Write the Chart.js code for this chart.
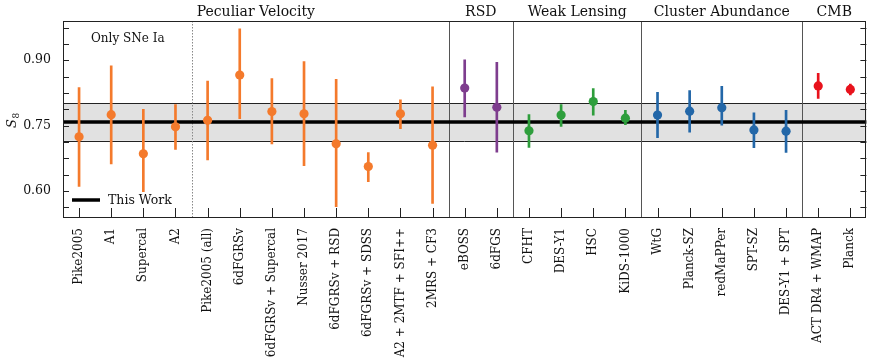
<!DOCTYPE html>
<html>
<head>
<meta charset="utf-8">
<script src="https://cdn.jsdelivr.net/npm/chart.js@4"></script>
<style>
  html, body { margin: 0; padding: 0; background: #fff; }
  #wrap { width: 871px; height: 362px; }
</style>
</head>
<body>
<div id="wrap"><canvas id="s8Chart" width="871" height="362"></canvas></div>
<script>
// Messungen
const labels = ['Pike2005', 'A1', 'Supercal', 'A2', 'Pike2005 (all)', '6dFGRSv', '6dFGRSv + Supercal',
    'Nusser 2017', '6dFGRSv + RSD', '6dFGRSv + SDSS', 'A2 + 2MTF + SFI++', '2MRS + CF3',
    'eBOSS', '6dFGS', 'CFHT', 'DES-Y1', 'HSC', 'KiDS-1000', 'WtG', 'Planck-SZ', 'redMaPPer',
    'SPT-SZ', 'DES-Y1 + SPT', 'ACT DR4 + WMAP', 'Planck'];
const s8Werte = [0.724, 0.775, 0.685, 0.747, 0.762, 0.866, 0.782, 0.777, 0.708, 0.656, 0.777, 0.705,
    0.836, 0.792, 0.738, 0.774, 0.805, 0.767, 0.774, 0.783, 0.791, 0.740, 0.737, 0.841, 0.833];
const s8Unten = [0.610, 0.662, 0.598, 0.695, 0.671, 0.766, 0.708, 0.658, 0.564, 0.621, 0.743, 0.571,
    0.770, 0.689, 0.700, 0.748, 0.774, 0.752, 0.722, 0.735, 0.751, 0.699, 0.688, 0.812, 0.820];
const s8Oben = [0.837, 0.887, 0.787, 0.798, 0.852, 0.972, 0.858, 0.897, 0.856, 0.688, 0.809, 0.839,
    0.901, 0.895, 0.775, 0.798, 0.835, 0.785, 0.826, 0.830, 0.840, 0.779, 0.785, 0.870, 0.845];
const gruppe = ['pv', 'pv', 'pv', 'pv', 'pv', 'pv', 'pv', 'pv', 'pv', 'pv', 'pv', 'pv',
    'rsd', 'rsd', 'wl', 'wl', 'wl', 'wl', 'cl', 'cl', 'cl', 'cl', 'cl', 'cmb', 'cmb'];

// Gruppen oben: Name, erster und letzter Index
const gruppenNamen = ['Peculiar Velocity', 'RSD', 'Weak Lensing', 'Cluster Abundance', 'CMB'];
const gruppenStart = [0, 12, 14, 18, 23];
const gruppenEnde = [11, 13, 17, 22, 24];

// Dieses Ergebnis (This Work)
const thisWork = 0.758;
const thisWorkUnten = 0.715;
const thisWorkOben = 0.801;

// y-Achse: beschriftete und kleine Ticks
const yTicksMajor = [0.60, 0.75, 0.90];
const yTicksAlle = [0.5625, 0.60, 0.6375, 0.675, 0.7125, 0.75, 0.7875, 0.825, 0.8625, 0.90, 0.9375, 0.975];

const farben = { pv: '#f47a2c', rsd: '#7e3d8e', wl: '#2e9e3c', cl: '#2367a8', cmb: '#e8121c' };
const punktFarben = gruppe.map(g => farben[g]);

const serif = '"DejaVu Serif", serif';

// Eigene Zeichnungen: Band, Trennlinien, Ticks, Texte
const deko = {
    id: 'deko',
    beforeDatasetsDraw(chart) {
        const { ctx, chartArea: a, scales: { x, y } } = chart;
        ctx.save();
        // graues Band
        const yO = y.getPixelForValue(thisWorkOben);
        const yU = y.getPixelForValue(thisWorkUnten);
        ctx.fillStyle = '#e1e1e1';
        ctx.fillRect(a.left, yO, a.right - a.left, yU - yO);
        ctx.strokeStyle = '#222';
        ctx.lineWidth = 1;
        ctx.beginPath();
        ctx.moveTo(a.left, Math.round(yO) + 0.5); ctx.lineTo(a.right, Math.round(yO) + 0.5);
        ctx.moveTo(a.left, Math.round(yU) + 0.5); ctx.lineTo(a.right, Math.round(yU) + 0.5);
        ctx.stroke();
        // Trennlinien
        const mitte = i => (x.getPixelForValue(i) + x.getPixelForValue(i + 1)) / 2;
        ctx.strokeStyle = '#555';
        gruppenEnde.slice(0, -1).forEach(e => {
            const px = Math.round(mitte(e)) + 0.5;
            ctx.beginPath(); ctx.moveTo(px, a.top); ctx.lineTo(px, a.bottom); ctx.stroke();
        });
        ctx.strokeStyle = '#888';
        ctx.setLineDash([1.5, 1.5]);
        const pd = Math.round(mitte(3)) + 0.5;
        ctx.beginPath(); ctx.moveTo(pd, a.top); ctx.lineTo(pd, a.bottom); ctx.stroke();
        ctx.setLineDash([]);
        // dicke Linie "This Work"
        const yT = y.getPixelForValue(thisWork);
        ctx.strokeStyle = '#000';
        ctx.lineWidth = 3.5;
        ctx.beginPath(); ctx.moveTo(a.left, yT); ctx.lineTo(a.right, yT); ctx.stroke();
        ctx.restore();
    },
    afterDatasetsDraw(chart) {
        const { ctx, chartArea: a, scales: { x, y } } = chart;
        ctx.save();
        ctx.strokeStyle = '#222';
        ctx.lineWidth = 1;
        // Rahmen
        ctx.strokeRect(Math.round(a.left) + 0.5, Math.round(a.top) + 0.5,
            Math.round(a.right - a.left) - 1, Math.round(a.bottom - a.top));
        // x-Ticks nach innen
        ctx.beginPath();
        labels.forEach((l, i) => {
            const px = Math.round(x.getPixelForValue(i)) + 0.5;
            ctx.moveTo(px, a.bottom); ctx.lineTo(px, a.bottom - 9);
        });
        // y-Ticks links und rechts
        y.ticks.forEach(t => {
            const py = Math.round(y.getPixelForValue(t.value)) + 0.5;
            ctx.moveTo(a.left, py); ctx.lineTo(a.left + 6, py);
            ctx.moveTo(a.right, py); ctx.lineTo(a.right - 6, py);
        });
        ctx.stroke();
        // Gruppentitel
        ctx.fillStyle = '#111';
        ctx.font = '14px ' + serif;
        ctx.textAlign = 'center';
        ctx.textBaseline = 'middle';
        gruppenNamen.forEach((n, k) => {
            const links = gruppenStart[k] === 0 ? a.left : (x.getPixelForValue(gruppenStart[k] - 1) + x.getPixelForValue(gruppenStart[k])) / 2;
            const rechts = gruppenEnde[k] === labels.length - 1 ? a.right : (x.getPixelForValue(gruppenEnde[k]) + x.getPixelForValue(gruppenEnde[k] + 1)) / 2;
            ctx.fillText(n, (links + rechts) / 2, a.top - 9);
        });
        // "Only SNe Ia"
        ctx.font = '12px ' + serif;
        ctx.textAlign = 'left';
        ctx.fillText('Only SNe Ia', a.left + 28, a.top + 18);
        // Legende
        ctx.strokeStyle = '#000';
        ctx.lineWidth = 3.5;
        ctx.beginPath(); ctx.moveTo(a.left + 9, a.bottom - 17); ctx.lineTo(a.left + 37, a.bottom - 17); ctx.stroke();
        ctx.font = '12.5px ' + serif;
        ctx.fillText('This Work', a.left + 45, a.bottom - 16);
        // y-Titel S8 (gedreht, mit Index)
        ctx.translate(16, 128);
        ctx.rotate(-Math.PI / 2);
        ctx.textBaseline = 'alphabetic';
        ctx.font = 'italic 13px ' + serif;
        ctx.fillText('S', 0, 0);
        const w = ctx.measureText('S').width;
        ctx.font = '9px ' + serif;
        ctx.fillText('8', w + 0.5, 2.5);
        ctx.restore();
    }
};

new Chart(document.getElementById('s8Chart'), {
    data: {
        labels: labels,
        datasets: [{
            type: 'bar',
            data: labels.map((l, i) => [s8Unten[i], s8Oben[i]]),
            backgroundColor: punktFarben,
            barThickness: 2,
            borderWidth: 0,
            order: 2
        }, {
            type: 'line',
            data: s8Werte,
            showLine: false,
            pointRadius: 4.6,
            pointHoverRadius: 4.6,
            pointBackgroundColor: punktFarben,
            pointBorderWidth: 0,
            order: 1
        }]
    },
    options: {
        responsive: false,
        animation: false,
        events: [],
        layout: { padding: { top: 21, right: 2, left: 0, bottom: 0 } },
        plugins: { legend: { display: false }, tooltip: { enabled: false } },
        scales: {
            x: {
                offset: true,
                grid: { display: false, drawTicks: false },
                border: { display: false },
                ticks: {
                    color: '#111',
                    font: { family: serif, size: 12 },
                    maxRotation: 90,
                    minRotation: 90,
                    padding: 11,
                    autoSkip: false
                },
                afterFit: s => { s.height = 145; s.paddingLeft = 0; s.paddingRight = 0; }
            },
            y: {
                min: 0.54,
                max: 0.99,
                grid: { display: false, drawTicks: false },
                border: { display: false },
                afterBuildTicks: s => { s.ticks = yTicksAlle.map(v => ({ value: v })); },
                ticks: {
                    autoSkip: false,
                    color: '#111',
                    padding: 12,
                    font: { family: serif, size: 12.5 },
                    callback: v => yTicksMajor.some(m => Math.abs(m - v) < 1e-6) ? v.toFixed(2) : ''
                },
                afterFit: s => { s.width = 63; s.paddingTop = 0; s.paddingBottom = 0; }
            }
        }
    },
    plugins: [deko]
});
</script>
</body>
</html>
